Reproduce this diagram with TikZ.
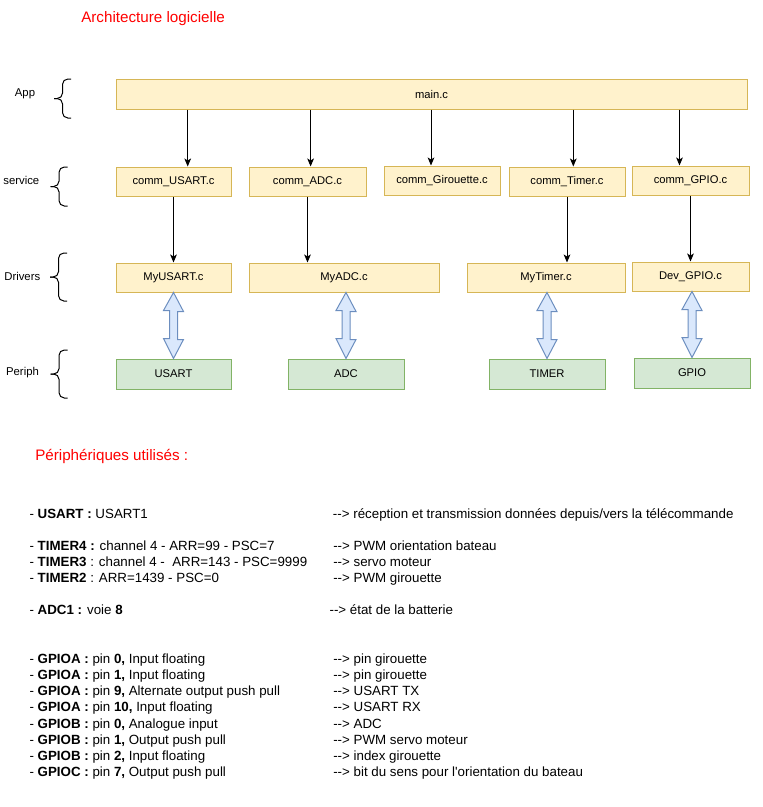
\documentclass[tikz,border=0pt]{standalone}
\usepackage{fontspec}
\newfontfamily\lsans{Liberation Sans}
\usetikzlibrary{arrows.meta}
\definecolor{yfill}{HTML}{FFF2CC}
\definecolor{ydraw}{HTML}{D6B656}
\definecolor{gfill}{HTML}{D5E8D4}
\definecolor{gdraw}{HTML}{82B366}
\definecolor{bfill}{HTML}{DAE8FC}
\definecolor{bdraw}{HTML}{6C8EBF}
\definecolor{titred}{HTML}{FF0000}
\newcommand\mybrace[3]{%
  \draw[brc] ({#1+17},#2) -- ({#1+8.5},#2) -- ({#1+8.5},{(#2+#3)/2}) -- (#1,{(#2+#3)/2});
  \draw[brc] (#1,{(#2+#3)/2}) -- ({#1+8.5},{(#2+#3)/2}) -- ({#1+8.5},#3) -- ({#1+17},#3);}
\newcommand\arrw{-{}->}
\begin{document}
\begin{tikzpicture}[x=0.75pt,y=-0.75pt,
  bx/.style 2 args={minimum width=#1*0.75pt, minimum height=#2*0.75pt},
  ybox/.style={draw=ydraw, fill=yfill, line width=0.75pt, inner sep=0pt, font=\lsans\fontsize{8.4}{10}\selectfont},
  gbox/.style={draw=gdraw, fill=gfill, line width=0.75pt, inner sep=0pt, font=\lsans\fontsize{8.4}{10}\selectfont},
  lbl/.style={font=\lsans\fontsize{8.5}{10}\selectfont, inner sep=0pt},
  arr/.style={-{Stealth[length=6pt,width=5pt,inset=1.5pt]}, line width=0.75pt},
  blk/.style={draw=bdraw, fill=bfill, line width=0.75pt, line join=miter},
  brc/.style={line width=0.75pt, rounded corners=4pt},
  head/.style={font=\lsans\fontsize{11.4}{13}\selectfont, text=titred, inner sep=0pt, anchor=base west},
  txt/.style={font=\lsans\fontsize{10}{12}\selectfont, inner sep=0pt, anchor=base west},
]
\useasboundingbox (0,0) rectangle (763,807);

% title
\node[head] (title) at (81,22) {Architecture logicielle};

% layer labels
\node[lbl] (lapp) at (25,93.3) {App};
\node[lbl] (lsrv) at (21.3,180.7) {service};
\node[lbl] (ldrv) at (22.3,276.7) {Drivers};
\node[lbl] (lper) at (22.5,373) {Periph};
\mybrace{54}{79}{118}
\mybrace{50.5}{167}{206}
\mybrace{50}{253}{301}
\mybrace{50.5}{350}{398}

% boxes
\node[ybox, bx={631}{30}] (main) at (431.5,94) {main.c};
\node[ybox, bx={115}{29}] (cu) at (173.5,181.5) {comm\_USART.c};
\node[ybox, bx={117}{29}] (ca) at (307.5,181.5) {comm\_ADC.c};
\node[ybox, bx={116}{29}] (cg) at (442,180.5) {comm\_Girouette.c};
\node[ybox, bx={116}{29}] (ct) at (567,181.5) {comm\_Timer.c};
\node[ybox, bx={117}{29}] (cp) at (690.5,180.5) {comm\_GPIO.c};
\node[ybox, bx={115}{29}] (mu) at (173.5,277.5) {MyUSART.c};
\node[ybox, bx={190}{29}] (ma) at (344,277.5) {MyADC.c};
\node[ybox, bx={158}{29}] (mt) at (546,277.5) {MyTimer.c};
\node[ybox, bx={117}{29}] (dg) at (690.5,276.5) {Dev\_GPIO.c};
\node[gbox, bx={115}{30}] (pu) at (173.5,374) {USART};
\node[gbox, bx={116}{30}] (pa) at (346,374) {ADC};
\node[gbox, bx={116}{30}] (pt) at (547,374) {TIMER};
\node[gbox, bx={116}{30}] (pg) at (692,373) {GPIO};

% main -> services
\coordinate (xm1) at (187.7,0);
\coordinate (xm2) at (310.6,0);
\coordinate (xm3) at (431,0);
\coordinate (xm4) at (573.3,0);
\coordinate (xm5) at (679.5,0);
\draw[arr] (main.south -| xm1) -- (cu.north -| xm1);
\draw[arr] (main.south -| xm2) -- (ca.north -| xm2);
\draw[arr] (main.south -| xm3) -- (cg.north -| xm3);
\draw[arr] (main.south -| xm4) -- (ct.north -| xm4);
\draw[arr] (main.south -| xm5) -- (cp.north -| xm5);

% services -> drivers
\draw[arr] (cu.south) -- (mu.north -| cu.south);
\draw[arr] (ca.south) -- (ma.north -| ca.south);
\draw[arr] (ct.south) -- (mt.north -| ct.south);
\draw[arr] (cp.south) -- (dg.north -| cp.south);

% drivers <-> peripherals
\draw[blk] (mu.south -| pu.north) -- ++(10,19) -- ++(-6,0) -- ++(0,28) -- ++(6,0) -- (pu.north) -- ++(-10,-20) -- ++(6,0) -- ++(0,-28) -- ++(-6,0) -- cycle;
\draw[blk] (ma.south -| pa.north) -- ++(10,19) -- ++(-6,0) -- ++(0,28) -- ++(6,0) -- (pa.north) -- ++(-10,-20) -- ++(6,0) -- ++(0,-28) -- ++(-6,0) -- cycle;
\draw[blk] (mt.south -| pt.north) -- ++(10,19) -- ++(-6,0) -- ++(0,28) -- ++(6,0) -- (pt.north) -- ++(-10,-20) -- ++(6,0) -- ++(0,-28) -- ++(-6,0) -- cycle;
\draw[blk] (dg.south -| pg.north) -- ++(10,19) -- ++(-6,0) -- ++(0,28) -- ++(6,0) -- (pg.north) -- ++(-10,-20) -- ++(6,0) -- ++(0,-28) -- ++(-6,0) -- cycle;

% peripherals list
\node[head] (periphh) at (35,460) {Périphériques utilisés :};

\node[txt] (l1) at (29.3,518) {- \textbf{USART :} USART1};
\node[txt] (r1) at (332.7,518) {\arrw{} réception et transmission données depuis/vers la télécommande};

\node[txt] (l2) at (29.3,550) {- \textbf{TIMER4 :} channel 4 - ARR=99 - PSC=7};
\node[txt] (r2) at (333,550) {\arrw{} PWM orientation bateau};
\node[txt] (l3) at (29.3,566) {- \textbf{TIMER3} : channel 4 - \ ARR=143 - PSC=9999};
\node[txt] (r3) at (333,566) {\arrw{} servo moteur};
\node[txt] (l4) at (29.3,582) {- \textbf{TIMER2} : ARR=1439 - PSC=0};
\node[txt] (r4) at (333,582) {\arrw{} PWM girouette};

\node[txt] (l5) at (29.3,614) {- \textbf{ADC1 :} voie \textbf{8}};
\node[txt] (r5) at (329.3,614) {\arrw{} état de la batterie};

\node[txt] (g1) at (29.3,663.3) {- \textbf{GPIOA :} pin \textbf{0,} Input floating};
\node[txt] (h1) at (333,663.3) {\arrw{} pin girouette};
\node[txt] (g2) at (29.3,679.5) {- \textbf{GPIOA :} pin \textbf{1,} Input floating};
\node[txt] (h2) at (333,679.5) {\arrw{} pin girouette};
\node[txt] (g3) at (29.3,695.7) {- \textbf{GPIOA :} pin \textbf{9,} Alternate output push pull};
\node[txt] (h3) at (333,695.7) {\arrw{} USART TX};
\node[txt] (g4) at (29.3,711.9) {- \textbf{GPIOA :} pin \textbf{10,} Input floating};
\node[txt] (h4) at (333,711.9) {\arrw{} USART RX};
\node[txt] (g5) at (29.3,728.1) {- \textbf{GPIOB :} pin \textbf{0,} Analogue input};
\node[txt] (h5) at (333,728.1) {\arrw{} ADC};
\node[txt] (g6) at (29.3,744.3) {- \textbf{GPIOB :} pin \textbf{1,} Output push pull};
\node[txt] (h6) at (333,744.3) {\arrw{} PWM servo moteur};
\node[txt] (g7) at (29.3,760.5) {- \textbf{GPIOB :} pin \textbf{2,} Input floating};
\node[txt] (h7) at (333,760.5) {\arrw{} index girouette};
\node[txt] (g8) at (29.3,776.7) {- \textbf{GPIOC :} pin \textbf{7,} Output push pull};
\node[txt] (h8) at (333,776.7) {\arrw{} bit du sens pour l'orientation du bateau};
\end{tikzpicture}
\end{document}
